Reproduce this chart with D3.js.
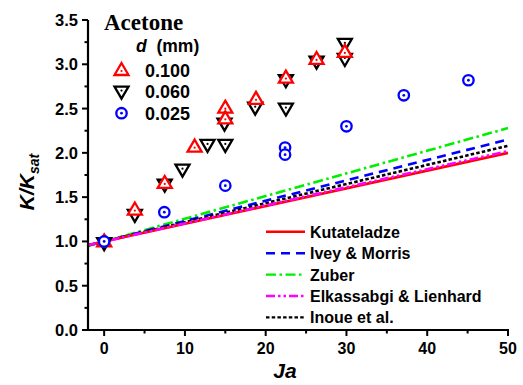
<!DOCTYPE html>
<html>
<head>
<meta charset="utf-8">
<script src="https://cdn.jsdelivr.net/npm/d3@7"></script>
<style>
  html, body { margin: 0; padding: 0; background: #fff; }
  svg { display: block; }
  text { font-family: "Liberation Sans", Arial, sans-serif; font-weight: bold; fill: #000; }
</style>
</head>
<body>
<svg id="chart" width="523" height="385"></svg>
<script>
// Measured thermal-conductivity ratio K/Ksat vs Jakob number, acetone, three wire diameters
const jaD100 = [0, 3.8, 7.5, 11.2, 15.0, 15.0, 18.8, 22.5, 26.3, 29.8];
const kD100  = [1.0, 1.36, 1.66, 2.07, 2.51, 2.39, 2.61, 2.85, 3.06, 3.14];

const jaD060 = [0, 3.8, 7.5, 9.7, 12.8, 15.0, 14.9, 18.7, 22.5, 22.5, 26.3, 29.8, 29.8];
const kD060  = [0.98, 1.30, 1.64, 1.81, 2.09, 2.09, 2.33, 2.51, 2.82, 2.50, 3.03, 3.23, 3.06];

const jaD025 = [0, 7.45, 15.0, 22.4, 22.4, 30.0, 37.1, 45.1];
const kD025  = [1.0, 1.33, 1.63, 2.06, 1.98, 2.30, 2.65, 2.82];

// Correlation predictions at the ends of the Ja range
const jaEnds        = [-2, 50];
const kutateladze   = [0.96, 2.00];
const iveyMorris    = [0.954, 2.15];
const zuber         = [0.949, 2.28];
const elkassabgi    = [0.958, 2.02];
const inoue         = [0.957, 2.08];

const xTicks = [0, 10, 20, 30, 40, 50];
const yTicks = [0.0, 0.5, 1.0, 1.5, 2.0, 2.5, 3.0, 3.5];
const diameterLabels = ["0.100", "0.060", "0.025"];
const modelLabels = ["Kutateladze", "Ivey & Morris", "Zuber", "Elkassabgi & Lienhard", "Inoue et al."];

const svg = d3.select("#chart");
const x = d3.scaleLinear().domain([-2, 50]).range([88, 508]);
const y = d3.scaleLinear().domain([0, 3.5]).range([330, 20]);

// Correlation lines
const models = [
  { vals: kutateladze, color: "#ff0000", dash: null },
  { vals: iveyMorris,  color: "#0000ff", dash: "9,6" },
  { vals: zuber,       color: "#00ee00", dash: "10,3.5,2.5,3.5" },
  { vals: elkassabgi,  color: "#ff00ff", dash: "9,3,2.5,3,2.5,3" },
  { vals: inoue,       color: "#000000", dash: "3.5,2.2" }
];
const line = d3.line().x(d => x(d[0])).y(d => y(d[1]));
// draw order: zuber, ivey, inoue, elkassabgi, kutateladze on top
[2, 1, 4, 0, 3].forEach(i => {
  const m = models[i];
  svg.append("path")
    .attr("d", line(jaEnds.map((j, k) => [j, m.vals[k]])))
    .attr("fill", "none")
    .attr("stroke", m.color)
    .attr("stroke-width", 2.6)
    .attr("stroke-dasharray", m.dash);
});

// Marker shapes
function triUp(g, cx, cy, color) {
  g.append("path")
    .attr("d", `M${cx},${cy - 7} L${cx + 7},${cy + 5} L${cx - 7},${cy + 5} Z`)
    .attr("fill", "#fff").attr("stroke", color).attr("stroke-width", 2.3)
    .attr("stroke-linejoin", "miter");
  g.append("circle").attr("cx", cx).attr("cy", cy + 1).attr("r", 1.1).attr("fill", color);
}
function triDown(g, cx, cy, color) {
  g.append("path")
    .attr("d", `M${cx},${cy + 7} L${cx + 7},${cy - 5} L${cx - 7},${cy - 5} Z`)
    .attr("fill", "#fff").attr("stroke", color).attr("stroke-width", 2.3)
    .attr("stroke-linejoin", "miter");
  g.append("circle").attr("cx", cx).attr("cy", cy - 1).attr("r", 1.1).attr("fill", color);
}
function ring(g, cx, cy, color) {
  g.append("circle").attr("cx", cx).attr("cy", cy).attr("r", 5.2)
    .attr("fill", "#fff").attr("stroke", color).attr("stroke-width", 2.3);
  g.append("circle").attr("cx", cx).attr("cy", cy).attr("r", 1.4).attr("fill", color);
}

const pts = svg.append("g");
jaD060.forEach((j, i) => triDown(pts, x(j), y(kD060[i]), "#000"));
jaD100.forEach((j, i) => triUp(pts, x(j), y(kD100[i]), "#ff0000"));
jaD025.forEach((j, i) => ring(pts, x(j), y(kD025[i]), "#0000ff"));

// Axes
const xAxis = svg.append("g").attr("transform", "translate(0,330)");
xAxis.append("line").attr("x1", 88).attr("x2", 509).attr("stroke", "#000").attr("stroke-width", 2.2);
d3.range(0, 51, 5).forEach(v => {
  const major = v % 10 === 0;
  xAxis.append("line").attr("x1", x(v)).attr("x2", x(v))
    .attr("y1", 0).attr("y2", major ? 6 : 3.5).attr("stroke", "#000").attr("stroke-width", 2);
});
xAxis.selectAll("text.tick").data(xTicks).join("text")
  .attr("x", d => x(d)).attr("y", 24).attr("text-anchor", "middle")
  .style("font-size", "16px").text(d => d);

const yAxis = svg.append("g").attr("transform", "translate(88,0)");
yAxis.append("line").attr("y1", y(0) + 1).attr("y2", y(3.5)).attr("stroke", "#000").attr("stroke-width", 2.2);
d3.range(0, 3.51, 0.25).forEach(v => {
  const major = Math.abs(v * 2 - Math.round(v * 2)) < 1e-6;
  yAxis.append("line").attr("x1", 0).attr("x2", major ? -6 : -3.5)
    .attr("y1", y(v)).attr("y2", y(v)).attr("stroke", "#000").attr("stroke-width", 2);
});
yAxis.selectAll("text.tick").data(yTicks).join("text")
  .attr("x", -10).attr("y", d => y(d)).attr("dy", "0.36em").attr("text-anchor", "end")
  .style("font-size", "16.5px").text(d => d3.format(".1f")(d));

// Axis titles
svg.append("text").attr("x", 285).attr("y", 378).attr("text-anchor", "middle")
  .style("font-size", "21px").style("font-style", "italic").text("Ja");
const yl = svg.append("text").attr("transform", "translate(34,182) rotate(-90)")
  .attr("text-anchor", "middle").style("font-size", "21px").style("font-style", "italic");
yl.append("tspan").text("K/K");
yl.append("tspan").attr("dy", 5).style("font-size", "14px").text("sat");

// Sample legend
svg.append("text").attr("x", 104).attr("y", 30)
  .style("font-family", "'Liberation Serif', 'Times New Roman', serif").style("font-size", "23px")
  .text("Acetone");
const dh = svg.append("text").attr("x", 136).attr("y", 52).style("font-size", "17.5px");
dh.append("tspan").style("font-style", "italic").text("d");
dh.append("tspan").text("\u00a0 (mm)");

const legSym = [triUp, triDown, ring];
const legCol = ["#ff0000", "#000", "#0000ff"];
diameterLabels.forEach((t, i) => {
  const cy = 70 + i * 21.6;
  legSym[i](svg, 121.5, cy, legCol[i]);
  svg.append("text").attr("x", 145).attr("y", cy + 6.5).style("font-size", "18px").text(t);
});

// Correlation legend
modelLabels.forEach((t, i) => {
  const cy = 231.8 + i * 21.4;
  const m = models[i];
  svg.append("line").attr("x1", 266).attr("x2", 305).attr("y1", cy).attr("y2", cy)
    .attr("stroke", m.color).attr("stroke-width", 2.4).attr("stroke-dasharray", m.dash);
  svg.append("text").attr("x", 310).attr("y", cy + 6).style("font-size", "16px").text(t);
});
</script>
</body>
</html>
